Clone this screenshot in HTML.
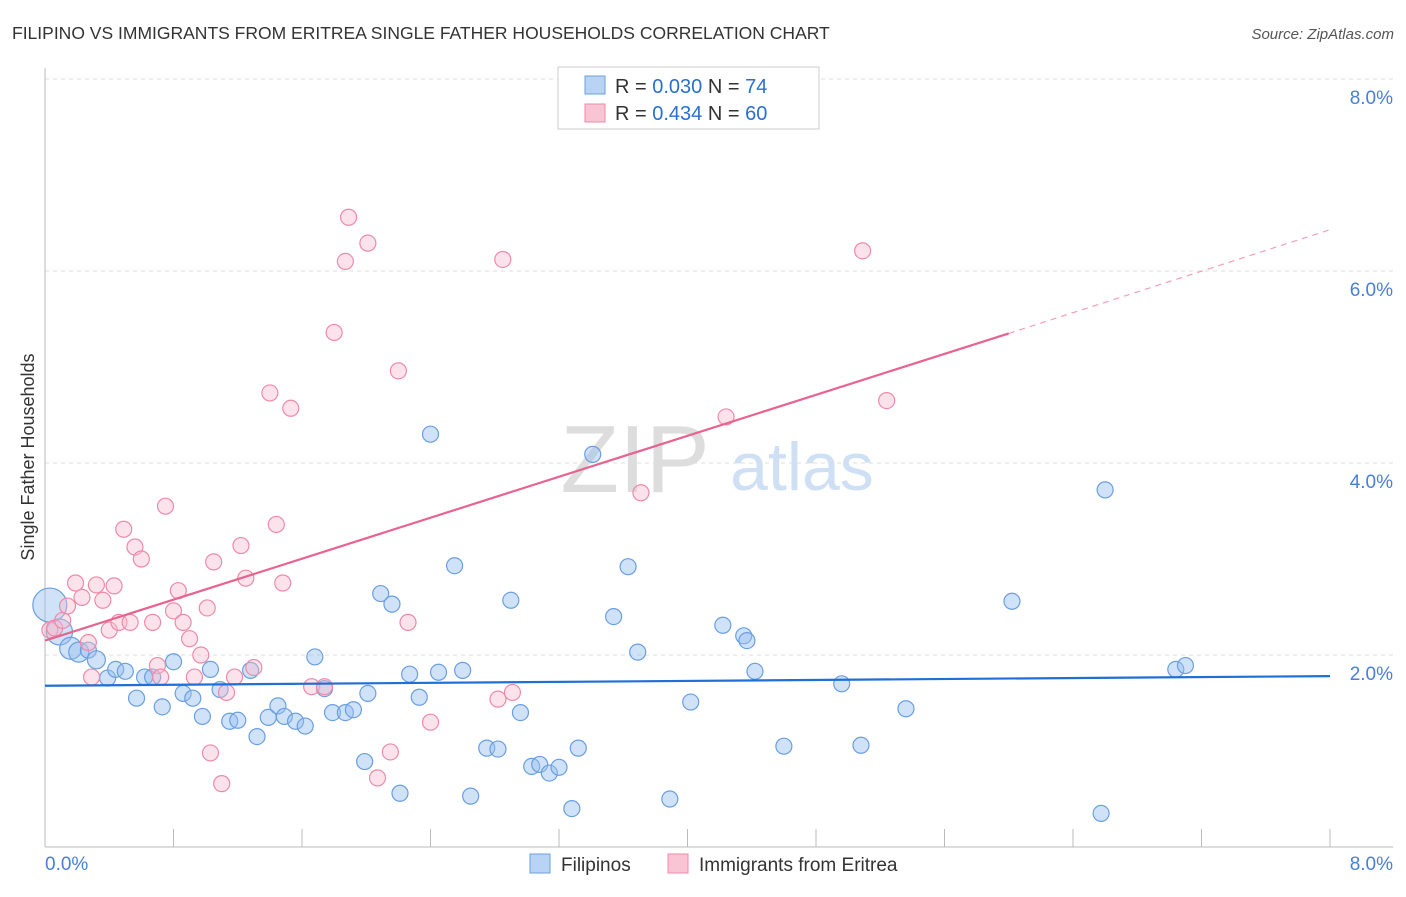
<!DOCTYPE html>
<html><head><meta charset="utf-8">
<style>
body{margin:0;background:#fff;font-family:"Liberation Sans",sans-serif;}
svg text{font-family:"Liberation Sans",sans-serif;}
</style></head>
<body>
<svg id="chart" width="1406" height="892" viewBox="0 0 1406 892" xmlns="http://www.w3.org/2000/svg">
<text x="12" y="39" font-size="17.5" fill="#333">FILIPINO VS IMMIGRANTS FROM ERITREA SINGLE FATHER HOUSEHOLDS CORRELATION CHART</text>
<text x="1394" y="39" font-size="15" fill="#555" text-anchor="end" font-style="italic">Source: ZipAtlas.com</text>
<text transform="translate(34,457) rotate(-90)" font-size="18" fill="#333" text-anchor="middle">Single Father Households</text>
<g>
<text x="635" y="492" font-size="96" fill="#ddd" font-family="Liberation Serif,serif" text-anchor="middle">ZIP</text>
<text x="802" y="490" font-size="68" fill="#cfe0f5" text-anchor="middle">atlas</text>
</g>
<g id="grid"></g>
<g id="axes"></g>
<g id="marks"></g>
<g>
<rect x="558" y="67" width="261" height="62" fill="#fff" stroke="#ccc"/>
<rect x="585" y="76" width="20" height="18" fill="#b9d3f5" stroke="#6a9fe0"/>
<rect x="585" y="104" width="20" height="18" fill="#f9c5d5" stroke="#ee8aa8"/>
<text x="615" y="93" font-size="20" fill="#333">R = <tspan fill="#2a6fd0">0.030</tspan>   N = <tspan fill="#2a6fd0"> 74</tspan></text>
<text x="615" y="120" font-size="20" fill="#333">R = <tspan fill="#2a6fd0"> 0.434</tspan>   N = <tspan fill="#2a6fd0">60</tspan></text>
</g>
<g>
<rect x="530" y="854" width="20" height="19" fill="#b9d3f5" stroke="#6a9fe0"/>
<text x="561" y="871" font-size="19" fill="#333">Filipinos</text>
<rect x="668" y="854" width="20" height="19" fill="#f9c5d5" stroke="#ee8aa8"/>
<text x="699" y="871" font-size="19" fill="#333">Immigrants from Eritrea</text>
</g>
</svg>
<script>
const yTicks=[2,4,6,8];
const yTickLabels=["2.0%","4.0%","6.0%","8.0%"];
const xTicks=[0,0.8,1.6,2.4,3.2,4,4.8,5.6,6.4,7.2,8];
const xEndLabels=["0.0%","8.0%"];
const blueX=[0.03,0.09,0.16,0.21,0.27,0.32,0.39,0.44,0.5,0.57,0.62,0.67,0.73,0.8,0.86,0.92,0.98,1.03,1.09,1.15,1.2,1.28,1.32,1.39,1.45,1.49,1.56,1.62,1.68,1.74,1.79,1.87,1.92,1.99,2.01,2.09,2.16,2.21,2.27,2.33,2.4,2.45,2.6,2.55,2.65,2.75,2.82,2.9,2.96,3.03,3.08,3.14,3.2,3.28,3.32,3.41,3.54,3.63,3.69,3.89,4.02,4.22,4.35,4.37,4.42,4.6,4.96,5.08,5.36,6.02,6.575,6.6,7.04,7.1];
const blueY=[2.52,2.24,2.07,2.03,2.05,1.95,1.76,1.85,1.83,1.55,1.77,1.77,1.46,1.93,1.6,1.55,1.36,1.85,1.64,1.31,1.32,1.84,1.15,1.35,1.47,1.36,1.31,1.26,1.98,1.65,1.4,1.4,1.43,0.89,1.6,2.64,2.53,0.56,1.8,1.56,4.3,1.82,1.84,2.93,0.53,1.03,1.02,2.57,1.4,0.84,0.86,0.77,0.83,0.4,1.03,4.09,2.4,2.92,2.03,0.5,1.51,2.31,2.2,2.15,1.83,1.05,1.7,1.06,1.44,2.56,0.35,3.72,1.85,1.89];
const blueR=[17,13,11,10,8,9,8,8,8,8,8,8,8,8,8,8,8,8,8,8,8,8,8,8,8,8,8,8,8,8,8,8,8,8,8,8,8,8,8,8,8,8,8,8,8,8,8,8,8,8,8,8,8,8,8,8,8,8,8,8,8,8,8,8,8,8,8,8,8,8,8,8,8,8];
const pinkX=[0.03,0.06,0.11,0.14,0.19,0.23,0.27,0.29,0.32,0.36,0.4,0.43,0.46,0.49,0.53,0.56,0.6,0.67,0.7,0.72,0.75,0.8,0.83,0.86,0.9,0.93,0.97,1.01,1.03,1.05,1.1,1.13,1.18,1.22,1.25,1.3,1.4,1.44,1.48,1.53,1.66,1.74,1.8,1.87,1.89,2.01,2.07,2.15,2.2,2.26,2.4,2.82,2.85,2.91,3.71,4.24,5.09,5.24];
const pinkY=[2.26,2.28,2.36,2.51,2.75,2.6,2.13,1.77,2.73,2.57,2.26,2.72,2.34,3.31,2.34,3.125,3.0,2.34,1.89,1.77,3.55,2.46,2.67,2.34,2.17,1.77,2.0,2.49,0.98,2.97,0.66,1.61,1.77,3.14,2.8,1.87,4.73,3.36,2.75,4.57,1.67,1.67,5.36,6.1,6.56,6.29,0.72,0.99,4.96,2.34,1.3,1.54,6.12,1.61,3.69,4.48,6.21,4.65];
const blueLine=[[0,1.68],[8,1.78]];
const pinkLine=[[0,2.15],[6,5.35]];
const pinkDash=[[6,5.35],[8,6.43]];

const X0=45,X1=1330,Y0=847,PXY=96;
const sx=v=>X0+(X1-X0)*v/8;
const sy=v=>Y0-v*PXY;
const NS="http://www.w3.org/2000/svg";
function mk(tag,parent,attrs){const e=document.createElementNS(NS,tag);for(const k in attrs)e.setAttribute(k,attrs[k]);parent.appendChild(e);return e;}
const grid=document.getElementById('grid'),axes=document.getElementById('axes'),marks=document.getElementById('marks');
yTicks.forEach((t,i)=>{
 const l=mk('line',grid,{x1:X0,x2:1393,y1:sy(t),y2:sy(t),stroke:'#ddd','stroke-dasharray':'4,4'});
 
 
 const tx=mk('text',grid,{x:1393,y:sy(t)+25,'font-size':19,fill:'#4a7fd4','text-anchor':'end'});
 tx.textContent=yTickLabels[i];
 
 
});
const la=mk('line',axes,{x1:X0,x2:X0,y1:68,y2:Y0,stroke:'#bbb'});


const ba=mk('line',axes,{x1:X0,x2:1393,y1:Y0,y2:Y0,stroke:'#bbb'});


xTicks.forEach(t=>{
 const tk=mk('line',axes,{x1:sx(t),x2:sx(t),y1:829,y2:Y0,stroke:'#bbb'});
 
 
});
[[0,'start',X0],[8,'end',1393]].forEach((d,i)=>{
 const tx=mk('text',axes,{x:d[2],y:870,'font-size':19,fill:'#4a7fd4','text-anchor':d[1]});
 tx.textContent=xEndLabels[i];
 
 
});
blueX.forEach((v,i)=>{
 const c=mk('circle',marks,{cx:sx(v),cy:sy(blueY[i]),r:blueR[i],fill:'rgba(150,190,240,0.45)',stroke:'#6a9fe0','stroke-width':1.2});
 
 
});
pinkX.forEach((v,i)=>{
 const c=mk('circle',marks,{cx:sx(v),cy:sy(pinkY[i]),r:8,fill:'rgba(248,185,205,0.4)',stroke:'#ee8aa8','stroke-width':1.2});
 
 
});
const bl=mk('line',marks,{x1:sx(blueLine[0][0]),y1:sy(blueLine[0][1]),x2:sx(blueLine[1][0]),y2:sy(blueLine[1][1]),stroke:'#1f6fd6','stroke-width':2.2});


const pl=mk('line',marks,{x1:sx(pinkLine[0][0]),y1:sy(pinkLine[0][1]),x2:sx(pinkLine[1][0]),y2:sy(pinkLine[1][1]),stroke:'#e8648f','stroke-width':2.2});


const pd=mk('line',marks,{x1:sx(pinkDash[0][0]),y1:sy(pinkDash[0][1]),x2:sx(pinkDash[1][0]),y2:sy(pinkDash[1][1]),stroke:'#f0a0bb','stroke-width':1.2,'stroke-dasharray':'6,5'});


</script>
</body></html>
